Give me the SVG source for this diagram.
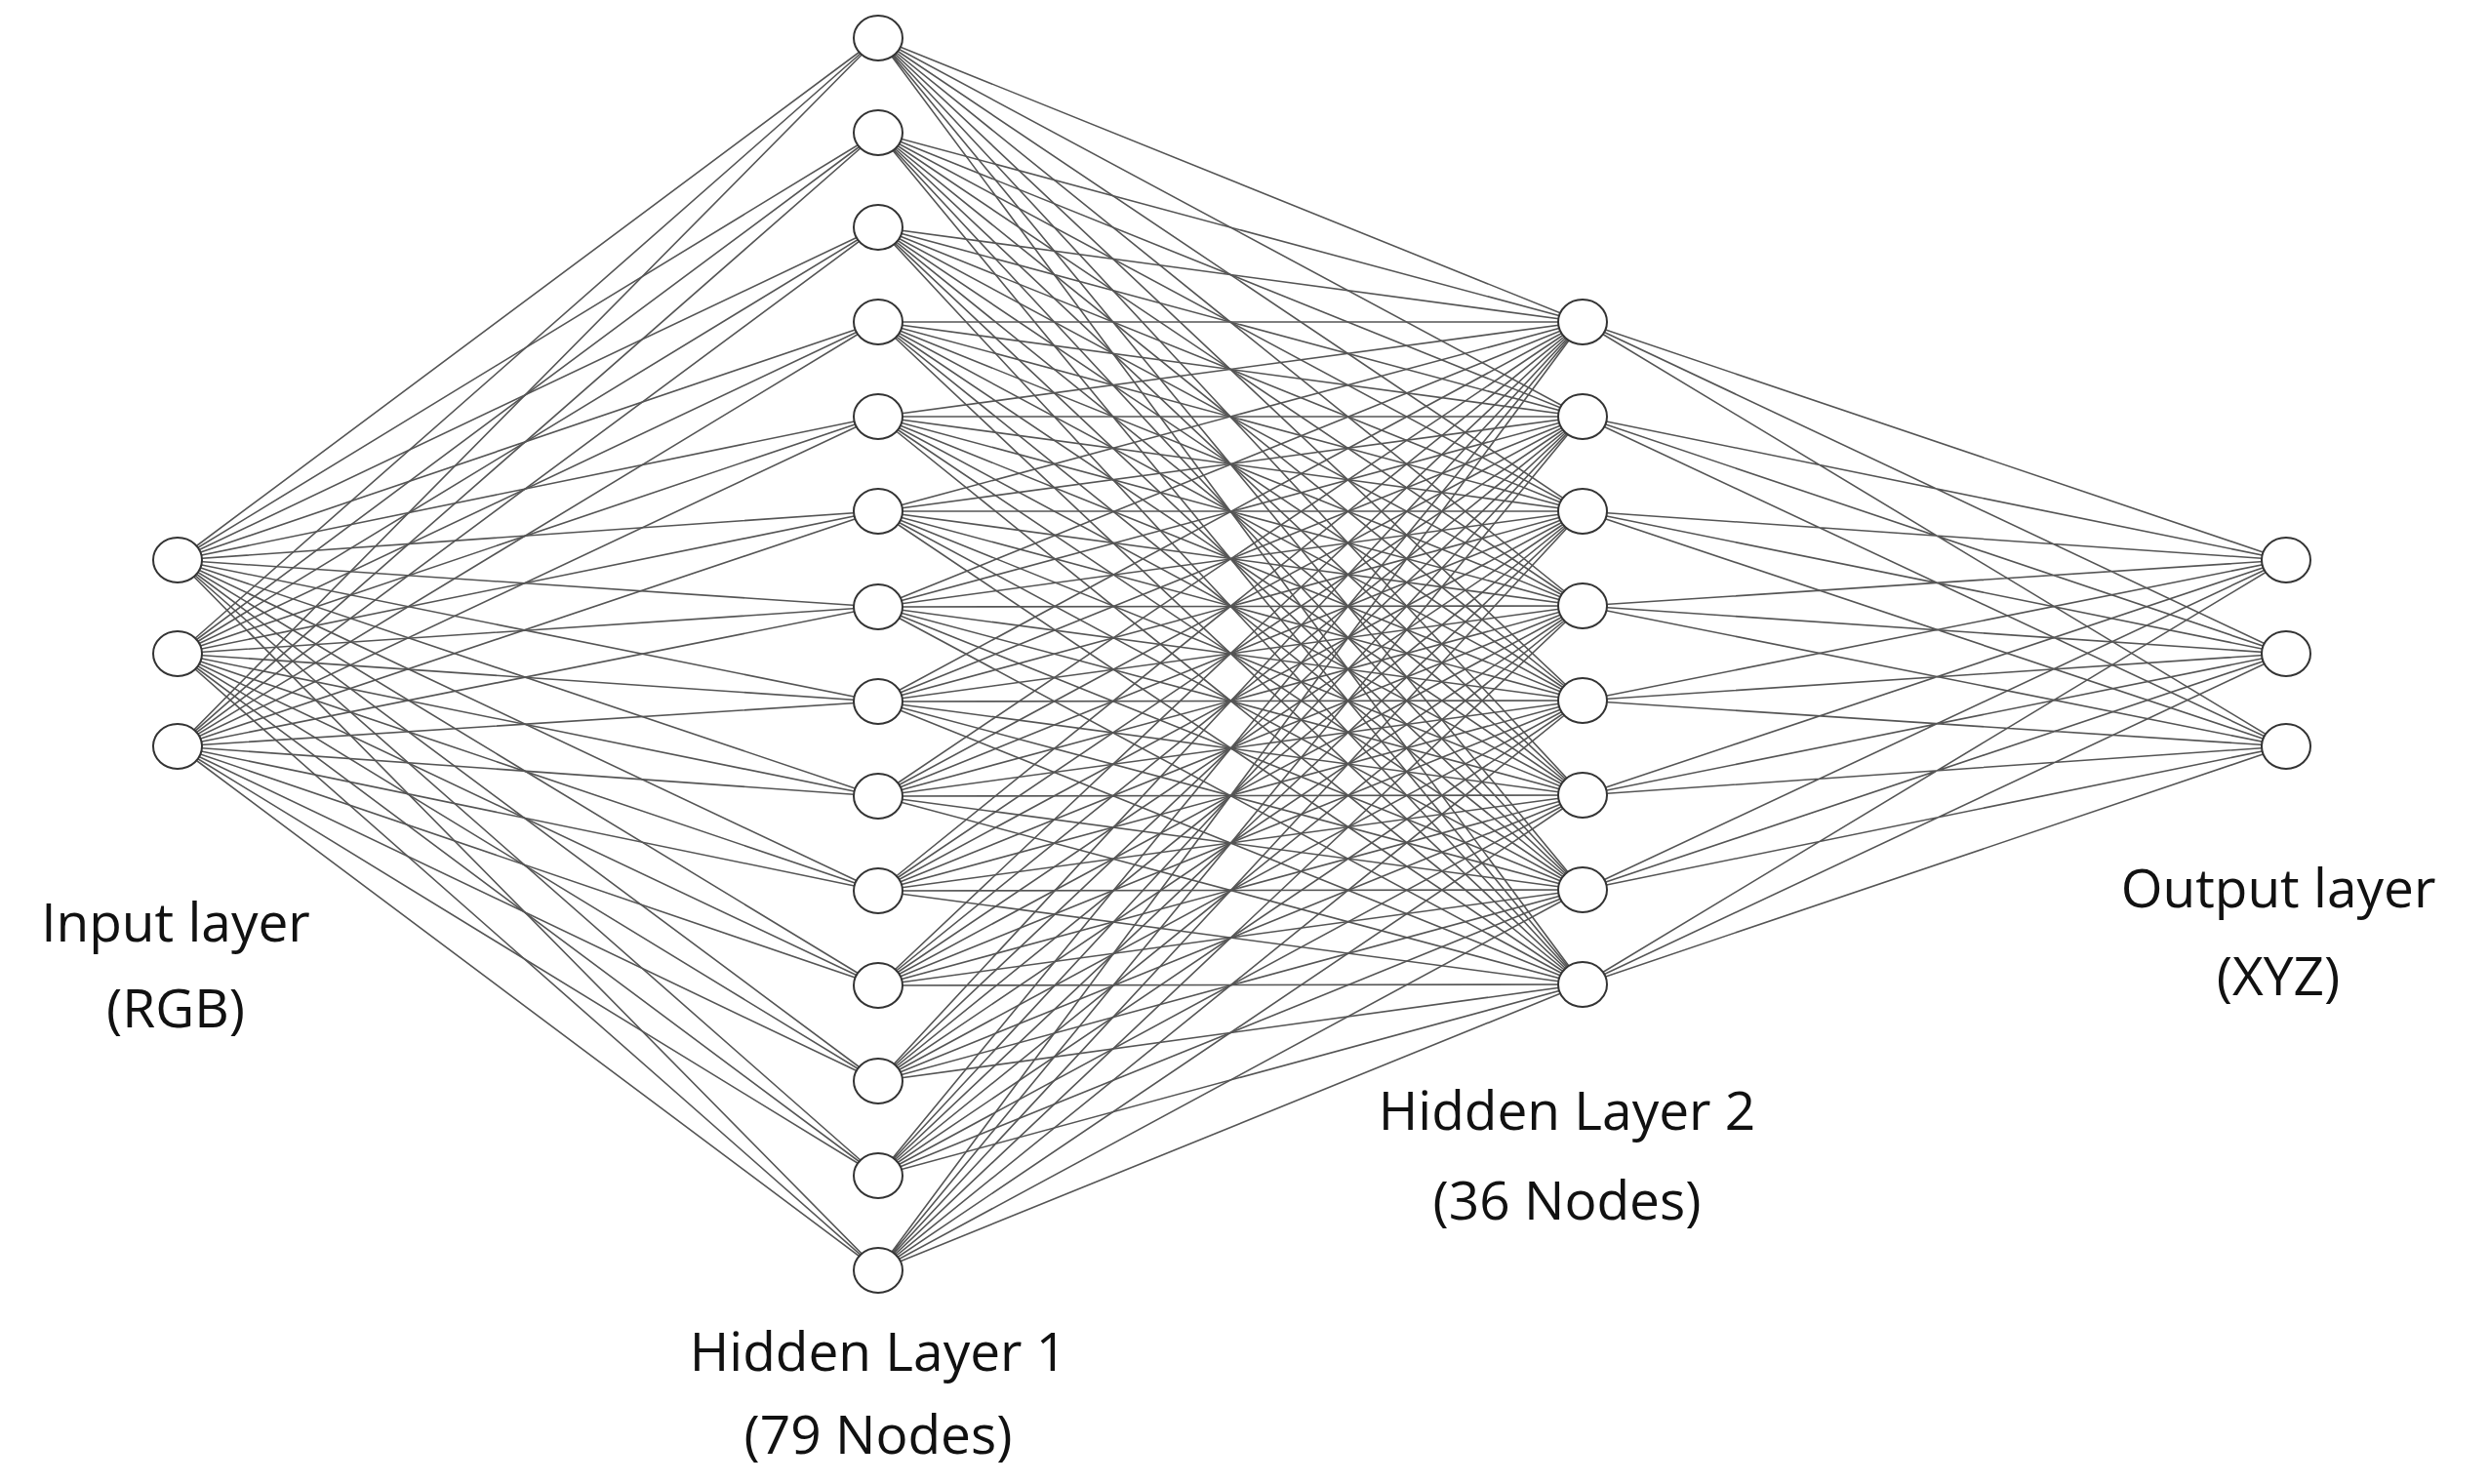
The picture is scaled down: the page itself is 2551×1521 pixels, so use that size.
<svg xmlns="http://www.w3.org/2000/svg" width="2551" height="1521" viewBox="0 0 2551 1521">
<style>
.c{fill:none;stroke:#555;stroke-width:1.6}
.n{fill:#fff;stroke:#333;stroke-width:2}
.t{font-family:"Open Sans","Liberation Sans",sans-serif;font-size:55px;fill:#111;text-anchor:middle}
</style>
<rect width="2551" height="1521" fill="#fff"/>
<g id="connectors" class="c">
<path d="M182 574L900 39M182 574L900 136M182 574L900 233M182 574L900 330M182 574L900 427M182 574L900 524M182 574L900 622M182 574L900 719M182 574L900 816M182 574L900 913M182 574L900 1010M182 574L900 1108M182 574L900 1205M182 574L900 1302"/>
<path d="M182 670L900 39M182 670L900 136M182 670L900 233M182 670L900 330M182 670L900 427M182 670L900 524M182 670L900 622M182 670L900 719M182 670L900 816M182 670L900 913M182 670L900 1010M182 670L900 1108M182 670L900 1205M182 670L900 1302"/>
<path d="M182 765L900 39M182 765L900 136M182 765L900 233M182 765L900 330M182 765L900 427M182 765L900 524M182 765L900 622M182 765L900 719M182 765L900 816M182 765L900 913M182 765L900 1010M182 765L900 1108M182 765L900 1205M182 765L900 1302"/>
<path d="M900 39L1622 330M900 39L1622 427M900 39L1622 524M900 39L1622 621M900 39L1622 718M900 39L1622 815M900 39L1622 912M900 39L1622 1009"/>
<path d="M900 136L1622 330M900 136L1622 427M900 136L1622 524M900 136L1622 621M900 136L1622 718M900 136L1622 815M900 136L1622 912M900 136L1622 1009"/>
<path d="M900 233L1622 330M900 233L1622 427M900 233L1622 524M900 233L1622 621M900 233L1622 718M900 233L1622 815M900 233L1622 912M900 233L1622 1009"/>
<path d="M900 330L1622 330M900 330L1622 427M900 330L1622 524M900 330L1622 621M900 330L1622 718M900 330L1622 815M900 330L1622 912M900 330L1622 1009"/>
<path d="M900 427L1622 330M900 427L1622 427M900 427L1622 524M900 427L1622 621M900 427L1622 718M900 427L1622 815M900 427L1622 912M900 427L1622 1009"/>
<path d="M900 524L1622 330M900 524L1622 427M900 524L1622 524M900 524L1622 621M900 524L1622 718M900 524L1622 815M900 524L1622 912M900 524L1622 1009"/>
<path d="M900 622L1622 330M900 622L1622 427M900 622L1622 524M900 622L1622 621M900 622L1622 718M900 622L1622 815M900 622L1622 912M900 622L1622 1009"/>
<path d="M900 719L1622 330M900 719L1622 427M900 719L1622 524M900 719L1622 621M900 719L1622 718M900 719L1622 815M900 719L1622 912M900 719L1622 1009"/>
<path d="M900 816L1622 330M900 816L1622 427M900 816L1622 524M900 816L1622 621M900 816L1622 718M900 816L1622 815M900 816L1622 912M900 816L1622 1009"/>
<path d="M900 913L1622 330M900 913L1622 427M900 913L1622 524M900 913L1622 621M900 913L1622 718M900 913L1622 815M900 913L1622 912M900 913L1622 1009"/>
<path d="M900 1010L1622 330M900 1010L1622 427M900 1010L1622 524M900 1010L1622 621M900 1010L1622 718M900 1010L1622 815M900 1010L1622 912M900 1010L1622 1009"/>
<path d="M900 1108L1622 330M900 1108L1622 427M900 1108L1622 524M900 1108L1622 621M900 1108L1622 718M900 1108L1622 815M900 1108L1622 912M900 1108L1622 1009"/>
<path d="M900 1205L1622 330M900 1205L1622 427M900 1205L1622 524M900 1205L1622 621M900 1205L1622 718M900 1205L1622 815M900 1205L1622 912M900 1205L1622 1009"/>
<path d="M900 1302L1622 330M900 1302L1622 427M900 1302L1622 524M900 1302L1622 621M900 1302L1622 718M900 1302L1622 815M900 1302L1622 912M900 1302L1622 1009"/>
<path d="M1622 330L2343 574M1622 330L2343 670M1622 330L2343 765M1622 427L2343 574M1622 427L2343 670M1622 427L2343 765M1622 524L2343 574M1622 524L2343 670M1622 524L2343 765M1622 621L2343 574M1622 621L2343 670M1622 621L2343 765"/>
<path d="M1622 718L2343 574M1622 718L2343 670M1622 718L2343 765M1622 815L2343 574M1622 815L2343 670M1622 815L2343 765M1622 912L2343 574M1622 912L2343 670M1622 912L2343 765M1622 1009L2343 574M1622 1009L2343 670M1622 1009L2343 765"/>
</g>
<g id="input-layer" class="n">
<ellipse id="in1" cx="182" cy="574" rx="25" ry="23"/><ellipse id="in2" cx="182" cy="670" rx="25" ry="23"/><ellipse id="in3" cx="182" cy="765" rx="25" ry="23"/>
</g>
<g id="hidden-layer-1" class="n">
<ellipse cx="900" cy="39" rx="25" ry="23"/><ellipse cx="900" cy="136" rx="25" ry="23"/><ellipse cx="900" cy="233" rx="25" ry="23"/><ellipse cx="900" cy="330" rx="25" ry="23"/><ellipse cx="900" cy="427" rx="25" ry="23"/><ellipse cx="900" cy="524" rx="25" ry="23"/><ellipse cx="900" cy="622" rx="25" ry="23"/><ellipse cx="900" cy="719" rx="25" ry="23"/><ellipse cx="900" cy="816" rx="25" ry="23"/><ellipse cx="900" cy="913" rx="25" ry="23"/><ellipse cx="900" cy="1010" rx="25" ry="23"/><ellipse cx="900" cy="1108" rx="25" ry="23"/><ellipse cx="900" cy="1205" rx="25" ry="23"/><ellipse cx="900" cy="1302" rx="25" ry="23"/>
</g>
<g id="hidden-layer-2" class="n">
<ellipse cx="1622" cy="330" rx="25" ry="23"/><ellipse cx="1622" cy="427" rx="25" ry="23"/><ellipse cx="1622" cy="524" rx="25" ry="23"/><ellipse cx="1622" cy="621" rx="25" ry="23"/><ellipse cx="1622" cy="718" rx="25" ry="23"/><ellipse cx="1622" cy="815" rx="25" ry="23"/><ellipse cx="1622" cy="912" rx="25" ry="23"/><ellipse cx="1622" cy="1009" rx="25" ry="23"/>
</g>
<g id="output-layer" class="n">
<ellipse cx="2343" cy="574" rx="25" ry="23"/><ellipse cx="2343" cy="670" rx="25" ry="23"/><ellipse cx="2343" cy="765" rx="25" ry="23"/>
</g>
<g id="labels" class="t">
<text x="180" y="965">Input layer</text><text x="180" y="1053">(RGB)</text>
<text x="900" y="1405">Hidden Layer 1</text><text x="900" y="1490">(79 Nodes)</text>
<text x="1606" y="1158">Hidden Layer 2</text><text x="1606" y="1250">(36 Nodes)</text>
<text x="2335" y="930">Output layer</text><text x="2335" y="1020">(XYZ)</text>
</g>
</svg>
